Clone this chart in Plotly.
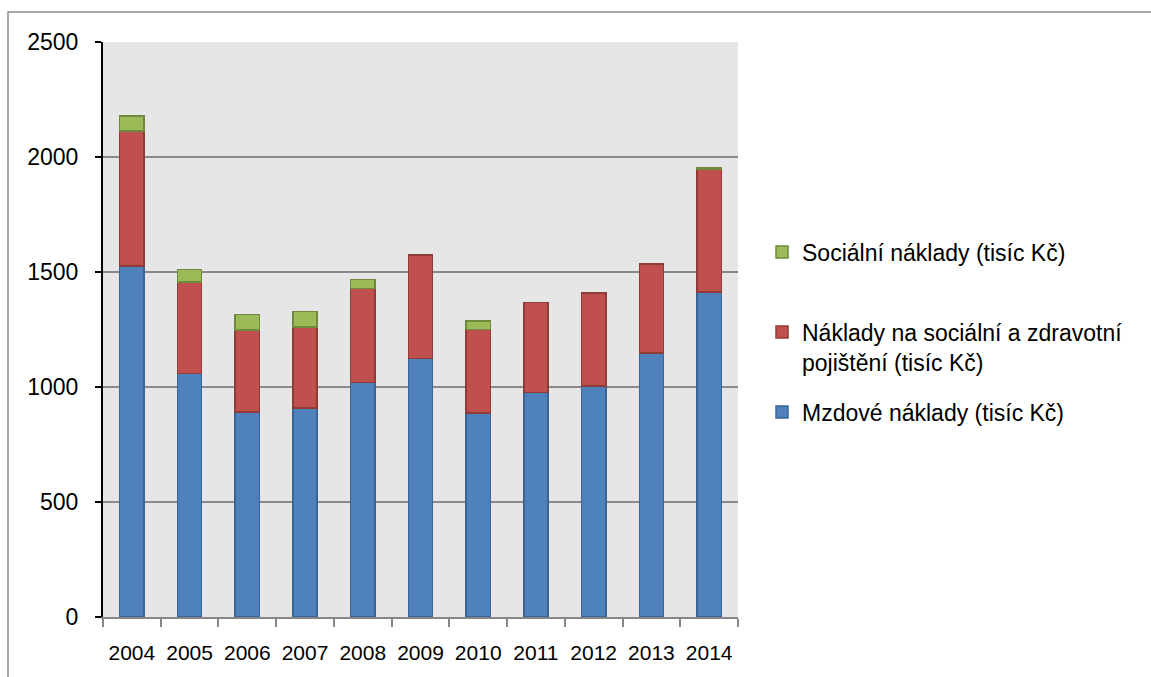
import plotly.graph_objects as go

# Roky a složky nákladů (tisíc Kč)
years = ["2004", "2005", "2006", "2007", "2008", "2009", "2010", "2011", "2012", "2013", "2014"]
mzdove = [1526, 1058, 891, 909, 1019, 1125, 888, 976, 1004, 1148, 1413]
pojisteni = [587, 399, 356, 352, 409, 448, 363, 391, 404, 387, 535]
socialni = [65, 53, 69, 68, 39, 0, 35, 0, 0, 0, 6]

W, H = 1151, 677
L, R, T, B = 103, 413, 42, 60
plot_w = W - L - R
plot_h = H - T - B

LEGEND_FONT = dict(family="Liberation Sans, Arial, sans-serif", size=23, color="#000000")


def px_x(x):
    return (x - L) / plot_w


def px_y(y):
    return (H - B - y) / plot_h


def nonzero(values):
    # empty segments are left out so no outline is drawn for them
    return [v if v else None for v in values]


fig = go.Figure()

fig.add_trace(go.Bar(
    x=years, y=nonzero(mzdove), name="Mzdové náklady (tisíc Kč)",
    marker=dict(color="#4F81BD", line=dict(color="#3A6494", width=1.5)),
    legend="legend3",
))
fig.add_trace(go.Bar(
    x=years, y=nonzero(pojisteni), name="Náklady na sociální a zdravotní<br>pojištění (tisíc Kč)",
    marker=dict(color="#C0504D", line=dict(color="#8F3B39", width=1.5)),
    legend="legend2",
))
fig.add_trace(go.Bar(
    x=years, y=nonzero(socialni), name="Sociální náklady (tisíc Kč)",
    marker=dict(color="#9BBB59", line=dict(color="#6F8A3C", width=1.5)),
    legend="legend",
))

legend_common = dict(
    xanchor="left", yanchor="middle", bgcolor="rgba(0,0,0,0)",
    borderwidth=0, font=LEGEND_FONT, valign="top",
)

fig.update_layout(
    width=W, height=H,
    margin=dict(l=L, r=R, t=T, b=B, autoexpand=False),
    barmode="stack",
    bargap=0.58,
    showlegend=True,
    plot_bgcolor="#E6E6E6",
    paper_bgcolor="#FFFFFF",
    legend=dict(x=px_x(762), y=px_y(252), **legend_common),
    legend2=dict(x=px_x(762), y=px_y(347), **legend_common),
    legend3=dict(x=px_x(762), y=px_y(412), **legend_common),
    xaxis=dict(
        type="category",
        showline=True, linecolor="#868686", linewidth=1.5,
        ticks="outside", tickson="boundaries", ticklen=8, tickcolor="#868686", tickwidth=1.5,
        tickangle=0,
        tickfont=dict(family="Liberation Sans, Arial, sans-serif", size=21, color="#000000"),
        ticklabelstandoff=16,
        showgrid=False,
    ),
    yaxis=dict(
        range=[0, 2500], dtick=500, tick0=0,
        showline=True, linecolor="#000000", linewidth=2,
        ticks="outside", ticklen=6, tickcolor="#000000", tickwidth=1.5,
        tickfont=dict(family="Liberation Sans, Arial, sans-serif", size=23, color="#000000"),
        ticklabelstandoff=12,
        showgrid=True, gridcolor="#8A8A8A", gridwidth=2,
        zeroline=False,
    ),
    shapes=[dict(
        type="rect", xref="paper", yref="paper", layer="below",
        x0=px_x(8), x1=px_x(1200), y0=px_y(720), y1=px_y(12),
        line=dict(color="#8C8C8C", width=1.5), fillcolor="rgba(0,0,0,0)",
    )],
)

fig.write_html("out.html")
